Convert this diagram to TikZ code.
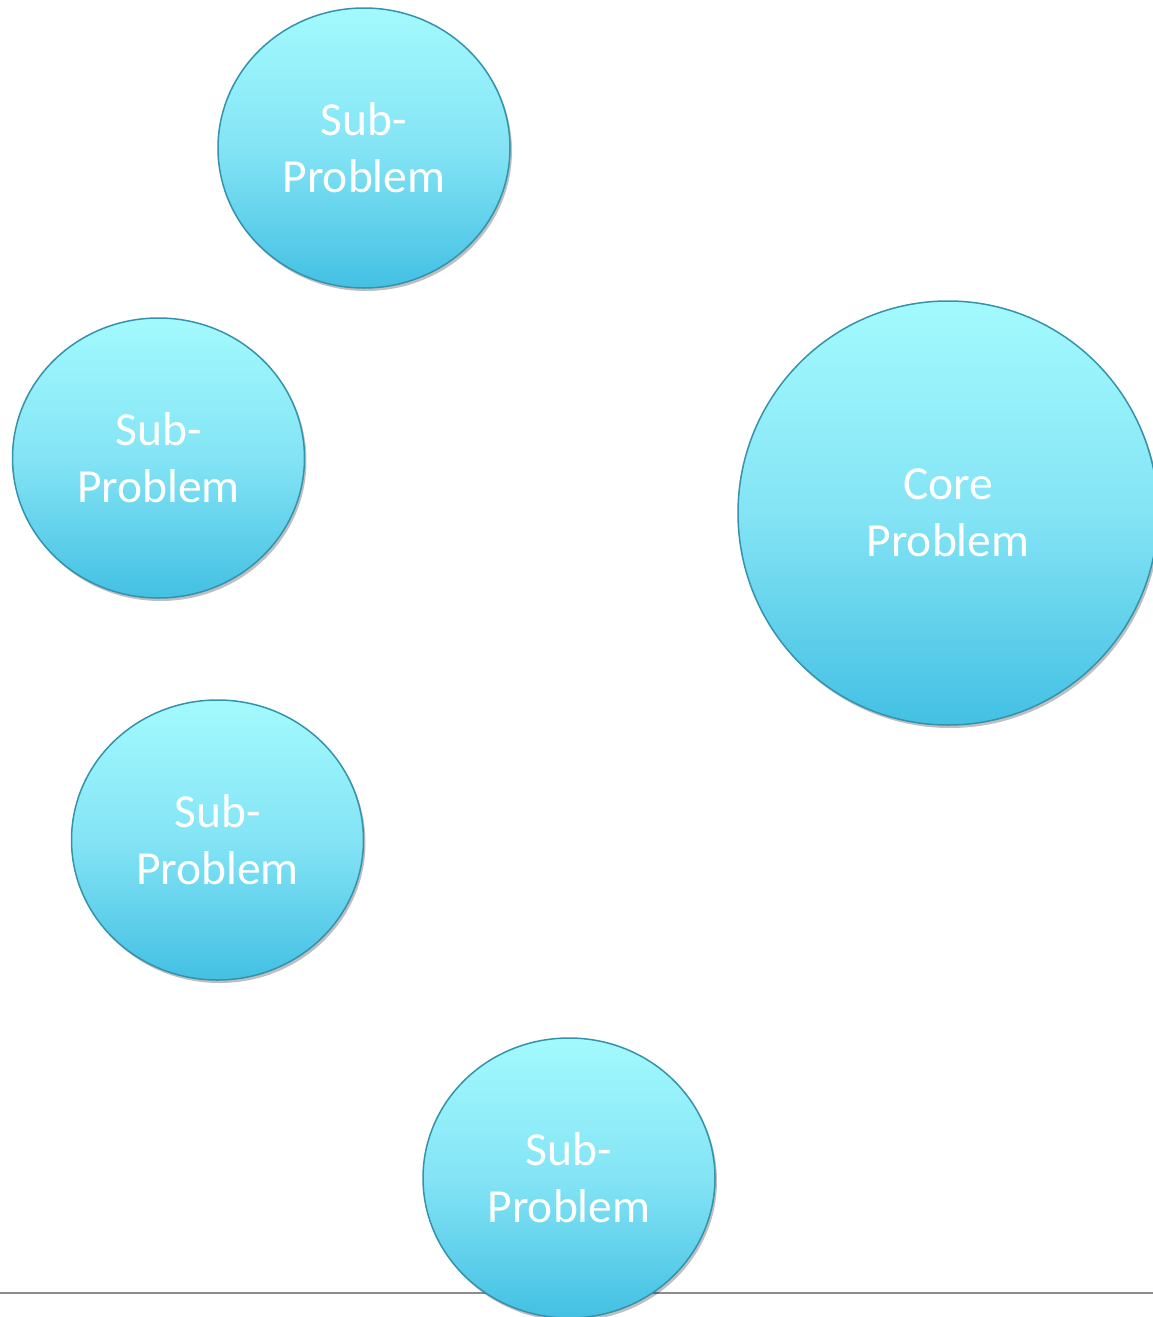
\documentclass[tikz,border=0pt]{standalone}
\usepackage{fontspec}
\setmainfont{Carlito}
\usetikzlibrary{shapes.geometric,shadows}
\definecolor{topc}{HTML}{A3FAFD}
\definecolor{midc}{HTML}{84E4F5}
\definecolor{botc}{HTML}{43C0E3}
\definecolor{rimc}{HTML}{3592AD}
\definecolor{linec}{HTML}{8C8C8C}
\tikzset{
  bubble/.style={ellipse, inner sep=0pt, draw=rimc, line width=1.5pt,
    top color=topc, bottom color=botc, middle color=midc,
    drop shadow={shadow xshift=2pt, shadow yshift=-3pt, opacity=0.25, fill=black},
    text=white, align=center, font=\fontsize{47.5}{57}\selectfont},
  subbubble/.style={bubble, minimum width=292pt, minimum height=280pt},
  corebubble/.style={bubble, minimum width=420pt, minimum height=424pt},
  baseline rule/.style={draw=linec, line width=2pt}
}
\begin{document}
\begin{tikzpicture}[x=1pt,y=-1pt]
\useasboundingbox (0,0) rectangle (1153,1317);
\clip (0,0) rectangle (1153,1317);
\fill[white] (0,0) rectangle (1153,1317);
\coordinate (lineL) at (0,1293);
\coordinate (lineR) at (1153,1293);
\draw[baseline rule] (lineL) -- (lineR);
\node[subbubble] (s1) at (364,148) {Sub-\\Problem};
\node[subbubble] (s2) at (158.5,458) {Sub-\\Problem};
\node[subbubble] (s3) at (217.5,840) {Sub-\\Problem};
\node[subbubble] (s4) at (569,1178) {Sub-\\Problem};
\node[corebubble] (core) at (948,513) {Core\\Problem};
\end{tikzpicture}
\end{document}
